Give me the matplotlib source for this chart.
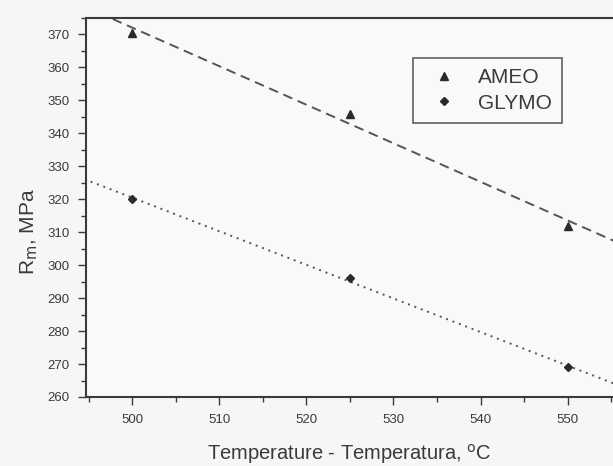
import numpy as np
import matplotlib
matplotlib.use('Agg')
import matplotlib.pyplot as plt
from matplotlib.ticker import MultipleLocator

plt.rcParams['font.family'] = ['Liberation Sans', 'DejaVu Sans']

temps = [500, 525, 550]
ameo = [370.5, 346, 312]
glymo = [320, 296, 269]

ink = '#3a3a3a'
fig = plt.figure(figsize=(6.13, 4.66), dpi=100)
fig.patch.set_facecolor('#f6f6f4')
ax = fig.add_axes([86/613, 1 - 397/466, 1 - 86/613, (397 - 18)/466])
ax.set_facecolor('#f9f9f8')

xfit = np.linspace(494.5, 556, 50)
for y, ls, mk, ms, lab in [(ameo, (0, (5, 3)), '^', 6, 'AMEO'),
                           (glymo, (0, (1, 2.5)), 'D', 4.5, 'GLYMO')]:
    k, b = np.polyfit(temps, y, 1)
    ax.plot(xfit, k * xfit + b, color='#555555', lw=1.4, ls=ls)
    ax.plot(temps, y, ls='none', marker=mk, ms=ms, color='#2a2a2a', label=lab)

ax.set_xlim(494.7, 555.2)
ax.set_ylim(260, 375)
ax.xaxis.set_major_locator(MultipleLocator(10))
ax.xaxis.set_minor_locator(MultipleLocator(5))
ax.yaxis.set_major_locator(MultipleLocator(10))
ax.yaxis.set_minor_locator(MultipleLocator(5))
ax.tick_params(which='both', direction='out', colors=ink, labelsize=9.5, width=1)
ax.tick_params(which='major', length=6, pad=6)
ax.tick_params(which='minor', length=3.5)
for s in ['left', 'bottom', 'top']:
    ax.spines[s].set_color(ink)
    ax.spines[s].set_linewidth(1.5)
ax.spines['right'].set_visible(False)

ax.set_xlabel('Temperature - Temperatura, $^\\mathrm{o}$C', fontsize=14.5, color=ink, labelpad=12)
ax.set_ylabel('R$_\\mathrm{m}$, MPa', fontsize=15, color=ink)
ax.yaxis.set_label_coords(-0.088, 0.436)

leg = ax.legend(loc='upper left', bbox_to_anchor=((413 - 86)/527, 1 - (58 - 18)/379),
                fontsize=15, frameon=True, fancybox=False, handletextpad=0.6,
                borderpad=0.5, labelspacing=0.3, borderaxespad=0,
                handlelength=2.0)
leg.get_frame().set_edgecolor(ink)
leg.get_frame().set_linewidth(1.2)
leg.get_frame().set_facecolor('#f9f9f8')
for t in leg.get_texts():
    t.set_color(ink)

fig.savefig('out.png', dpi=100, facecolor=fig.get_facecolor())
